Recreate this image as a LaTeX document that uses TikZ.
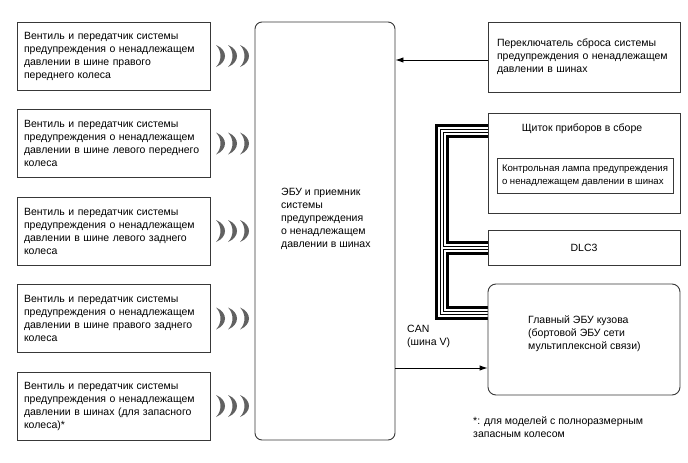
\documentclass[tikz,border=0pt]{standalone}
\usepackage{fontspec}
\setmainfont{Liberation Sans}
\usetikzlibrary{calc,arrows.meta,backgrounds}
\newcommand\fs{\fontsize{10.5}{13}\selectfont}
\newcommand\fss{\fontsize{9.6}{12.5}\selectfont}
\tikzset{
  box/.style={draw=black!78, line width=0.9pt, fill=white, inner sep=0pt, font=\fs},
  lbox/.style={box, inner xsep=7pt, text width=179pt, minimum height=68pt, align=left},
  rbox/.style={box, minimum width=192pt, align=left},
  lbl/.style={font=\fs, align=left, inner sep=0pt},
  arr/.style={draw=black, line width=0.9pt, -{Latex[length=8pt,width=5.5pt]}},
  wave/.style={fill=black!62, draw=none}
}
\newcommand\waves[2]{%
  \foreach \t in {0,12,24}{%
    \fill[wave] (#1+\t,#2-11) .. controls (#1+\t+12,#2-6) and (#1+\t+12,#2+6) .. (#1+\t,#2+11)
      .. controls (#1+\t+6,#2+5) and (#1+\t+6,#2-5) .. cycle;}}
\begin{document}
\begin{tikzpicture}[x=1pt,y=-1pt]
\useasboundingbox (0,0) rectangle (688,463);

% left transmitter boxes
\node[lbox] (v1) at (113.5,56) {Вентиль и передатчик системы\\предупреждения о ненадлежащем\\давлении в шине правого\\переднего колеса};
\node[lbox] (v2) at (113.5,143.5) {Вентиль и передатчик системы\\предупреждения о ненадлежащем\\давлении в шине левого переднего\\колеса};
\node[lbox] (v3) at (113.5,231) {Вентиль и передатчик системы\\предупреждения о ненадлежащем\\давлении в шине левого заднего\\колеса};
\node[lbox] (v4) at (113.5,318.5) {Вентиль и передатчик системы\\предупреждения о ненадлежащем\\давлении в шине правого заднего\\колеса};
\node[lbox] (v5) at (113.5,406) {Вентиль и передатчик системы\\предупреждения о ненадлежащем\\давлении в шинах (для запасного\\колеса)*};

\waves{216}{56}
\waves{216}{143.5}
\waves{216}{231}
\waves{216}{318.5}
\waves{216}{406}

% central ECU
\node[box, rounded corners=7pt, minimum width=140pt, minimum height=418pt] (ecu) at (325,231) {};
\node[lbl, anchor=west] (ecutxt) at (281,219) {ЭБУ и приемник\\системы\\предупреждения\\о ненадлежащем\\давлении в шинах};

% right side
\node[rbox, inner xsep=9pt, text width=174pt, minimum height=70pt] (reset) at (584,57) {Переключатель сброса системы\\предупреждения о ненадлежащем\\давлении в шинах};
\node[rbox, minimum height=100pt] (cluster) at (584,163) {};
\node[lbl, align=center] (cltitle) at (582,129) {Щиток приборов в сборе};
\node[box, font=\fss, minimum width=176pt, minimum height=35pt, align=left] (lamp) at (585,175.5) {Контрольная лампа предупреждения\\о ненадлежащем давлении в шинах};
\node[rbox, minimum height=35pt] (dlc) at (584,247.5) {DLC3};
\node[rbox, rounded corners=8pt, minimum height=111pt] (body) at (584,339.5) {};
\node[lbl, anchor=west] (bodytxt) at (528,334) {Главный ЭБУ кузова\\(бортовой ЭБУ сети\\мультиплексной связи)};

\node[lbl, anchor=west] (can) at (407,336.5) {CAN\\(шина V)};
\node[lbl, anchor=west] (note) at (473,427) {*: для моделей с полноразмерным\\запасным колесом};

% arrows
\coordinate (a1) at ($(reset.west)+(0,3)$);
\draw[arr] (a1) -- (a1 -| ecu.east);
\coordinate (a2) at ($(body.west)+(0,28.5)$);
\draw[arr] (a2 -| ecu.east) -- (a2);

% CAN bus bundle
\coordinate (btop) at (442,131);
\coordinate (bbot) at (442,313);
\begin{scope}[on background layer]
\fill[white] (0,0) rectangle (688,463);
\foreach \w/\c in {14/black,8/white,4/black,2/white}{
  \draw[line width=\w pt, draw=\c, line join=miter] (cluster.west |- btop) -- (btop) -- (bbot) -- (body.west |- bbot);
  \draw[line width=\w pt, draw=\c] (dlc.west) -- (dlc.west -| btop);
}
\end{scope}
\end{tikzpicture}
\end{document}
